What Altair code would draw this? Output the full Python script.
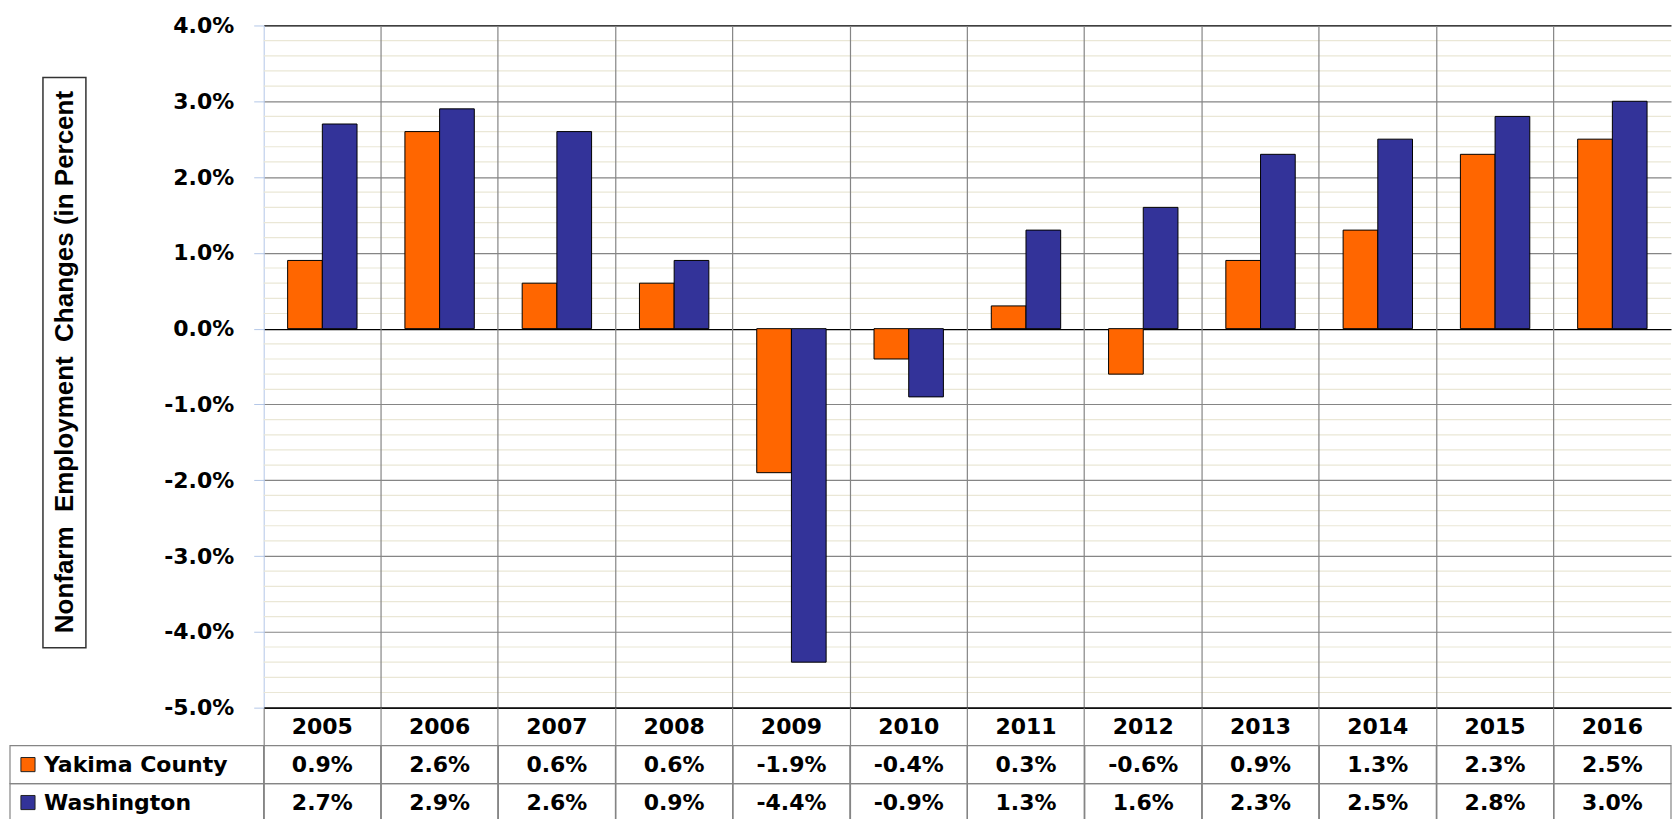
import altair as alt
import pandas as pd

years = ["2005", "2006", "2007", "2008", "2009", "2010", "2011", "2012", "2013", "2014", "2015", "2016"]
series = ["Yakima County", "Washington"]
yakima = [0.9, 2.6, 0.6, 0.6, -1.9, -0.4, 0.3, -0.6, 0.9, 1.3, 2.3, 2.5]
washington = [2.7, 2.9, 2.6, 0.9, -4.4, -0.9, 1.3, 1.6, 2.3, 2.5, 2.8, 3.0]
y_ticks = [-5, -4, -3, -2, -1, 0, 1, 2, 3, 4]
title_text = "Nonfarm\u00a0 Employment\u00a0 Changes (in Percent"

ORANGE = "#FF6600"
BLUE = "#333399"
GRID = "#858585"
MINOR = "#EAE7D6"
AXISBLUE = "#B4C7E7"
FONT = "DejaVu Sans"

rows = ["Year"] + series

df = pd.DataFrame(
    [{"year": y, "series": series[0], "value": v} for y, v in zip(years, yakima)]
    + [{"year": y, "series": series[1], "value": v} for y, v in zip(years, washington)]
)

minor_vals = []
for t in y_ticks[:-1]:
    for k in range(1, 5):
        minor_vals.append(round(t + 0.2 * k, 1))
minor_df = pd.DataFrame({"value": minor_vals})

year_rows = pd.DataFrame([{"year": y, "row": "Year", "label": y} for y in years])
value_rows = []
for s, vals in zip(series, [yakima, washington]):
    value_rows += [{"year": y, "row": s, "label": f"{v:.1f}%"} for y, v in zip(years, vals)]
value_rows = pd.DataFrame(value_rows)
table_df = pd.concat([year_rows, value_rows], ignore_index=True)
legend_df = pd.DataFrame({"row": series})

color_scale = alt.Scale(domain=series, range=[ORANGE, BLUE])
x_scale = alt.Scale(domain=years, paddingInner=0, paddingOuter=0)
row_scale = alt.Scale(domain=rows, paddingInner=0, paddingOuter=0)

W = 1409
H = 683
TH = 114
LW = 254

y_enc = alt.Y(
    "value:Q",
    scale=alt.Scale(domain=[-5, 4], nice=False, zero=False),
    axis=alt.Axis(
        values=y_ticks,
        labelExpr="replace(format(datum.value, '.1f'), '\u2212', '-') + '%'",
        title=None,
        grid=True,
        gridColor=alt.condition("datum.value == 4 || datum.value == 0 || datum.value == -5",
                                alt.value("black"), alt.value(GRID)),
        gridWidth=1.2,
        tickColor=AXISBLUE,
        tickSize=10,
        domainColor=AXISBLUE,
        labelPadding=20,
        labelFont=FONT,
        labelFontSize=22,
        labelFontWeight="bold",
        labelColor="black",
    ),
)

minor = alt.Chart(minor_df).mark_rule(color=MINOR, strokeWidth=1.2).encode(y=y_enc)

bars = alt.Chart(df).mark_bar(stroke="black", strokeWidth=1).encode(
    x=alt.X(
        "year:N",
        sort=years,
        scale=x_scale,
        axis=alt.Axis(
            title=None, labels=False, ticks=False, grid=True, values=years[1:],
            bandPosition=0, gridColor=GRID, gridWidth=1.2, domainColor="black",
            domainWidth=1.2, zindex=1,
        ),
    ),
    xOffset=alt.XOffset("series:N", sort=series,
                        scale=alt.Scale(domain=series, paddingInner=0, paddingOuter=0.69)),
    y=y_enc,
    color=alt.Color("series:N", scale=color_scale, legend=None),
)

bar_chart = alt.layer(minor, bars).properties(width=W, height=H)

title_base = alt.Chart(pd.DataFrame({"t": [title_text]}))
title_box = title_base.mark_rect(fillOpacity=0, stroke="#333333", strokeWidth=1.5).encode(
    x=alt.value(33), x2=alt.value(76), y=alt.value(52), y2=alt.value(623)
)
title_txt = title_base.mark_text(
    angle=270, font="Liberation Sans", fontSize=26, fontWeight="bold", color="black",
    align="center", baseline="middle",
).encode(x=alt.value(55), y=alt.value(337), text="t:N")
title_chart = alt.layer(title_box, title_txt).properties(width=LW, height=H)

tx = alt.X(
    "year:N", sort=years, scale=x_scale,
    axis=alt.Axis(title=None, labels=False, ticks=False, domain=False, grid=True,
                  values=years, bandPosition=0, gridColor=GRID, gridWidth=1.2),
)
ty = alt.Y("row:N", sort=rows, scale=row_scale, axis=None)

table_cells = alt.Chart(value_rows).mark_rect(
    fillOpacity=0, stroke=GRID, strokeWidth=1.2
).encode(x=tx, y=ty)
table_text = alt.Chart(table_df).mark_text(
    font=FONT, fontSize=22, fontWeight="bold", color="black", baseline="middle"
).encode(x=tx, y=ty, text="label:N")
table_chart = alt.layer(table_cells, table_text).properties(width=W, height=TH)

leg_y = alt.Y("row:N", scale=row_scale, axis=None)
leg_base = alt.Chart(legend_df)
leg_box = leg_base.mark_rect(fillOpacity=0, stroke=GRID, strokeWidth=1.2).encode(
    x=alt.value(0), x2=alt.value(LW), y=leg_y
)
leg_sq = leg_base.mark_square(size=200, stroke="#222222", strokeWidth=1, opacity=1).encode(
    x=alt.value(18), y=leg_y, color=alt.Color("row:N", scale=color_scale, legend=None)
)
leg_txt = leg_base.mark_text(
    font=FONT, fontSize=22, fontWeight="bold", color="black", align="left", baseline="middle"
).encode(x=alt.value(34), y=leg_y, text="row:N")
legend_chart = alt.layer(leg_box, leg_sq, leg_txt).properties(width=LW, height=TH)

chart = alt.concat(
    title_chart, bar_chart, legend_chart, table_chart,
    columns=2, spacing=0, bounds="flush", align="each",
).properties(
    padding={"top": 6, "left": 1, "right": 0, "bottom": 0}
).configure_view(stroke=None)

chart.save("out.html", embed_options={"renderer": "svg", "actions": False})
